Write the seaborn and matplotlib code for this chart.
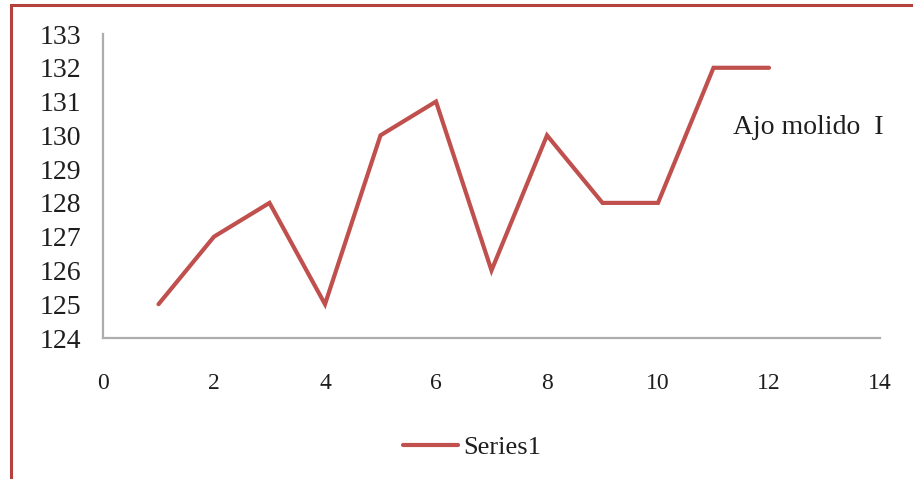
import matplotlib
matplotlib.use("Agg")
import matplotlib.pyplot as plt
import seaborn as sns
import pandas as pd
from matplotlib.patches import Rectangle
from matplotlib.lines import Line2D

# Measurements for "Ajo molido I"
x_values = [1, 2, 3, 4, 5, 6, 7, 8, 9, 10, 11, 12]
y_values = [125, 127, 128, 125, 130, 131, 126, 130, 128, 128, 132, 132]
series_name = "Series1"
annotation = "Ajo molido  I"
x_ticks = [0, 2, 4, 6, 8, 10, 12, 14]
y_ticks = [124, 125, 126, 127, 128, 129, 130, 131, 132, 133]

sns.set_theme(style="white")
plt.rcParams["font.family"] = ["Liberation Serif", "DejaVu Serif"]

line_color = "#C0504D"
spine_color = "#ADADAD"
text_color = "#1E1E1E"

df = pd.DataFrame({"x": x_values, "y": y_values, "series": series_name})

fig = plt.figure(figsize=(9.13, 4.79), dpi=100)
fig.patch.set_facecolor("white")
ax = fig.add_axes([103 / 913, 1 - 338 / 479, (880 - 103) / 913, (338 - 34) / 479])

sns.lineplot(data=df, x="x", y="y", ax=ax, color=line_color, linewidth=3.0,
             legend=False, solid_capstyle="round", solid_joinstyle="miter")

ax.set_xlim(0, 14)
ax.set_ylim(124, 133)
ax.set_xticks(x_ticks)
ax.set_yticks(y_ticks)
ax.set_xlabel("")
ax.set_ylabel("")
ax.tick_params(axis="x", labelsize=17, length=0, pad=25, colors=text_color)
ax.tick_params(axis="y", labelsize=20, length=0, pad=16, colors=text_color)

for side in ("top", "right"):
    ax.spines[side].set_visible(False)
for side in ("left", "bottom"):
    ax.spines[side].set_color(spine_color)
    ax.spines[side].set_linewidth(1.6)
ax.grid(False)

fig.text(733 / 913, 1 - 128 / 479, annotation, fontsize=20, ha="left", va="center",
         color=text_color)

handle = Line2D([], [], color=line_color, linewidth=3.0, solid_capstyle="round")
fig.legend([handle], [series_name], loc="center", bbox_to_anchor=(472 / 913, 1 - 447 / 479),
           frameon=False, fontsize=19, handlelength=2.1, handletextpad=0.2,
           labelcolor=text_color)

# Outer frame of the chart area
fig.patches.append(Rectangle((11 / 913, -0.05), 1.1, 1 - 5 / 479 + 0.05,
                             transform=fig.transFigure, fill=False,
                             edgecolor="#B5413D", linewidth=2.2, zorder=10))

fig.savefig("out.png", dpi=100, facecolor="white")
